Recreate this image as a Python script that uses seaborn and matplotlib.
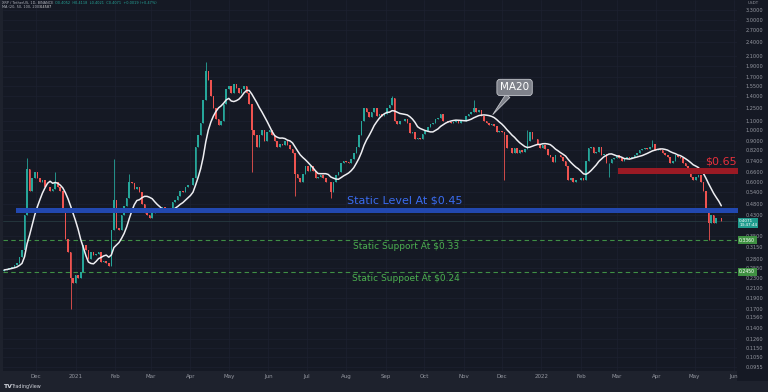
import matplotlib
matplotlib.use('Agg')
import matplotlib.pyplot as plt
from matplotlib.patches import Rectangle
import numpy as np
import pandas as pd
import seaborn as sns

# XRP / USDT, 2-day candles (close of each candle)
start_date = '2020-11-06'
first_open = 0.248
closes = [
    # Nov 2020
    0.250, 0.252, 0.255, 0.258, 0.262, 0.268, 0.285, 0.305, 0.430, 0.680, 0.550, 0.620, 0.660,
    # Dec 2020
    0.620, 0.600, 0.610, 0.570, 0.570, 0.550, 0.560, 0.600, 0.570, 0.550, 0.460, 0.340, 0.300, 0.230, 0.220,
    # Jan 2021
    0.237, 0.230, 0.245, 0.320, 0.305, 0.280, 0.300, 0.290, 0.292, 0.300, 0.270, 0.272, 0.268, 0.260, 0.370, 0.500,
    # Feb 2021
    0.380, 0.370, 0.430, 0.470, 0.510, 0.600, 0.590, 0.560, 0.570, 0.540, 0.480, 0.440, 0.430, 0.420,
    # Mar 2021
    0.440, 0.450, 0.460, 0.455, 0.465, 0.450, 0.445, 0.460, 0.490, 0.500, 0.520, 0.550, 0.540, 0.570, 0.580,
    # Apr 2021
    0.580, 0.620, 0.850, 0.950, 1.070, 1.350, 1.800, 1.650, 1.400, 1.250, 1.120, 1.050, 1.100, 1.300, 1.500,
    # May 2021
    1.550, 1.450, 1.580, 1.520, 1.450, 1.500, 1.550, 1.450, 1.300, 1.000, 0.950, 0.850, 0.950, 1.000, 0.900, 0.980,
    # Jun 2021
    1.000, 0.950, 0.900, 0.850, 0.870, 0.860, 0.900, 0.860, 0.830, 0.800, 0.650, 0.620, 0.600, 0.650, 0.700,
    # Jul 2021
    0.670, 0.700, 0.670, 0.620, 0.630, 0.640, 0.620, 0.600, 0.600, 0.540, 0.600, 0.640, 0.660, 0.720, 0.740,
    # Aug 2021
    0.730, 0.720, 0.750, 0.800, 0.850, 0.950, 1.100, 1.250, 1.200, 1.140, 1.200, 1.250, 1.150, 1.180, 1.150, 1.170,
    # Sep 2021
    1.250, 1.280, 1.380, 1.100, 1.060, 1.100, 1.100, 1.120, 1.080, 0.970, 0.980, 0.920, 0.930, 0.920, 0.960,
    # Oct 2021
    0.990, 1.030, 1.060, 1.080, 1.120, 1.130, 1.170, 1.100, 1.100, 1.090, 1.080, 1.090, 1.100, 1.070, 1.100,
    # Nov 2021
    1.100, 1.150, 1.180, 1.200, 1.250, 1.200, 1.220, 1.150, 1.100, 1.070, 1.050, 1.060, 1.040, 0.980, 0.990,
    # Dec 2021
    0.980, 0.950, 0.840, 0.840, 0.800, 0.840, 0.800, 0.820, 0.810, 0.830, 0.900, 0.980, 0.920, 0.920, 0.870, 0.840,
    # Jan 2022
    0.860, 0.830, 0.780, 0.770, 0.730, 0.780, 0.780, 0.770, 0.740, 0.700, 0.610, 0.620, 0.600, 0.610, 0.610,
    # Feb 2022
    0.620, 0.610, 0.740, 0.840, 0.850, 0.800, 0.810, 0.850, 0.780, 0.790, 0.720, 0.720, 0.750, 0.760,
    # Mar 2022
    0.780, 0.760, 0.740, 0.750, 0.770, 0.760, 0.770, 0.780, 0.800, 0.820, 0.830, 0.840, 0.830, 0.850, 0.870, 0.820,
    # Apr 2022
    0.830, 0.820, 0.800, 0.780, 0.770, 0.720, 0.740, 0.780, 0.770, 0.760, 0.720, 0.700, 0.670, 0.630, 0.610,
    # May 2022
    0.630, 0.640, 0.600, 0.550, 0.460, 0.400, 0.430, 0.400, 0.420, 0.420, 0.4071,
]
# the long wicks that stand out
wick_high = {'2020-11-24': 0.76, '2020-12-16': 0.66, '2021-01-31': 0.75, '2021-02-12': 0.65,
             '2021-04-13': 1.96, '2021-09-06': 1.41, '2021-11-09': 1.35, '2021-12-21': 1.00,
             '2022-03-29': 0.91}
wick_low = {'2020-12-28': 0.17, '2021-05-19': 0.66, '2021-06-22': 0.52, '2021-07-20': 0.51,
            '2021-12-03': 0.61, '2022-02-23': 0.63, '2022-05-12': 0.335}

price_ticks = [3.3, 3.0, 2.7, 2.4, 2.1, 1.9, 1.7, 1.55, 1.4, 1.25, 1.1, 1.0, 0.9, 0.82, 0.74,
               0.66, 0.6, 0.54, 0.48, 0.43, 0.35, 0.315, 0.28, 0.255, 0.23, 0.21, 0.19, 0.17,
               0.156, 0.14, 0.126, 0.115, 0.105, 0.0955]
month_ticks = pd.date_range('2020-12-01', '2022-06-01', freq='MS')
month_labels = ['Dec', '2021', 'Feb', 'Mar', 'Apr', 'May', 'Jun', 'Jul', 'Aug', 'Sep', 'Oct',
                'Nov', 'Dec', '2022', 'Feb', 'Mar', 'Apr', 'May', 'Jun']

level_blue = (0.440, 0.462)
level_red = (0.648, 0.686)
support_levels = [0.336, 0.245]
last_price = 0.4071
ma_last = 0.4587

BG = '#151924'
PANEL = '#1e222d'
UP, DOWN = '#26a69a', '#ef5350'

df = pd.DataFrame({'date': pd.date_range(start_date, periods=len(closes), freq='2D'),
                   'close': closes})
df['open'] = df['close'].shift(1).fillna(first_open)
key = df['date'].dt.strftime('%Y-%m-%d')
df['high'] = np.maximum(df[['open', 'close']].max(axis=1), key.map(wick_high).fillna(0))
df['low'] = np.minimum(df[['open', 'close']].min(axis=1), key.map(wick_low).fillna(99))
df['ma20'] = df['close'].rolling(10, min_periods=1).mean()   # 10 x 2 days = 20 days
colors = np.where(df['close'] >= df['open'], UP, DOWN)

sns.set_theme(style='dark', rc={'axes.facecolor': BG, 'figure.facecolor': PANEL})
plt.rcParams['font.family'] = ['DejaVu Sans']

fig = plt.figure(figsize=(7.68, 3.92), dpi=100)
fig.patches.append(Rectangle((737 / 768, 11 / 392), 31 / 768, 381 / 392, transform=fig.transFigure,
                             fc=BG, ec='none', zorder=-1))
ax = fig.add_axes([3 / 768, 21 / 392, 734 / 768, 371 / 392])
ax.set_yscale('log')

d0 = pd.Timestamp('2020-12-01')
ax.set_xlim(d0 - pd.Timedelta(days=25.9), d0 + pd.Timedelta(days=549.3))
ax.set_ylim(0.0917, 3.644)

# candles
ax.vlines(df['date'], df['low'], df['high'], colors=colors, lw=0.6, zorder=3)
ax.bar(df['date'], (df['close'] - df['open']).abs(), bottom=df[['open', 'close']].min(axis=1),
       width=1.25, color=colors, linewidth=0, zorder=3)
sns.lineplot(data=df, x='date', y='ma20', ax=ax, color='#eeeef2', lw=1.1, zorder=4)

# levels
ax.fill_between([pd.Timestamp('2020-11-15'), pd.Timestamp('2022-06-10')], *level_blue,
                color='#2248b0', lw=0, zorder=5)
ax.fill_between([pd.Timestamp('2022-03-02'), pd.Timestamp('2022-06-10')], *level_red,
                color='#9a1a24', lw=0, zorder=5)
for lv in support_levels:
    ax.axhline(lv, color='#3f8f45', lw=0.8, ls=(0, (4, 3)), zorder=2)
ax.axhline(last_price, color='#263a40', lw=0.6, zorder=1)

ax.text(pd.Timestamp('2021-09-16'), 0.498, 'Static Level At $0.45', color='#3a6cf0', fontsize=8,
        ha='center', va='center', zorder=6)
ax.text(pd.Timestamp('2021-09-17'), 0.314, 'Static Support At $0.33', color='#4caf50', fontsize=6.5,
        ha='center', va='center', zorder=6)
ax.text(pd.Timestamp('2021-09-17'), 0.2297, 'Static Suppoet At $0.24', color='#4caf50', fontsize=6.5,
        ha='center', va='center', zorder=6)
ax.text(pd.Timestamp('2022-05-22'), 0.73, '$0.65', color='#e8303c', fontsize=8,
        ha='center', va='center', zorder=6)
ax.annotate('MA20', xy=(pd.Timestamp('2021-11-24'), 1.17), xytext=(pd.Timestamp('2021-12-11'), 1.53),
            ha='center', va='center', color='white', fontsize=7.5, zorder=7,
            bbox=dict(boxstyle='round,pad=0.3', fc='#7e818a', ec='#c4c6cc', lw=0.6),
            arrowprops=dict(arrowstyle='wedge,tail_width=0.5', fc='#7e818a', ec='#c4c6cc', lw=0.6,
                            shrinkA=0, shrinkB=0))

# axes styling
ax.set_xlabel('')
ax.set_ylabel('')
ax.set_xticks(month_ticks)
ax.set_xticklabels(month_labels)
ax.yaxis.tick_right()
ax.set_yticks(price_ticks)
ax.set_yticklabels([f'{t:.4f}' for t in price_ticks])
ax.yaxis.set_minor_locator(matplotlib.ticker.NullLocator())
ax.tick_params(axis='x', length=0, pad=2.5, labelsize=4, labelcolor='#9598a1')
ax.tick_params(axis='y', length=0, pad=6, labelsize=3.6, labelcolor='#9598a1')
ax.grid(True, color='#1d2130', lw=0.5)
for s in ax.spines.values():
    s.set_visible(False)

# price tags on the axis
ytr = ax.get_yaxis_transform()
ax.text(1.003, 0.400, '0.4071\n13:47:44', transform=ytr, fontsize=3, color='white',
        ha='left', va='center', linespacing=1.0, clip_on=False, zorder=8,
        bbox=dict(boxstyle='square,pad=0.25', fc='#1f9c8e', ec='none'))
for lv in support_levels:
    ax.text(1.003, lv, f'{lv:.4f}', transform=ytr, fontsize=3.3, color='white', ha='left',
            va='center', clip_on=False, zorder=8,
            bbox=dict(boxstyle='square,pad=0.3', fc='#3f9142', ec='none'))

# header and footer
fig.text(2 / 768, 1 - 3.5 / 392, 'XRP / TetherUS, 1D, BINANCE', fontsize=2.5, color='#b2b5be', va='center')
fig.text(55 / 768, 1 - 3.5 / 392, 'O0.4052  H0.4118  L0.4021  C0.4071  +0.0019 (+0.47%)', fontsize=2.5,
         color='#26a69a', va='center')
fig.text(2 / 768, 1 - 7.5 / 392, 'MA (20, 50, 100, 200)', fontsize=2.5, color='#b2b5be', va='center')
fig.text(40 / 768, 1 - 7.5 / 392, f'{ma_last:.4f}', fontsize=2.5, color='#e0e0e0', va='center')
fig.text(748 / 768, 1 - 3 / 392, 'USDT', fontsize=3, color='#9598a1', va='center')
fig.text(3 / 768, 5.5 / 392, 'TV', fontsize=4.5, color='#d1d4dc', va='center', fontweight='bold')
fig.text(11 / 768, 5.5 / 392, 'TradingView', fontsize=3.5, color='#d1d4dc', va='center')

fig.savefig('out.png', dpi=100, facecolor=fig.get_facecolor())
